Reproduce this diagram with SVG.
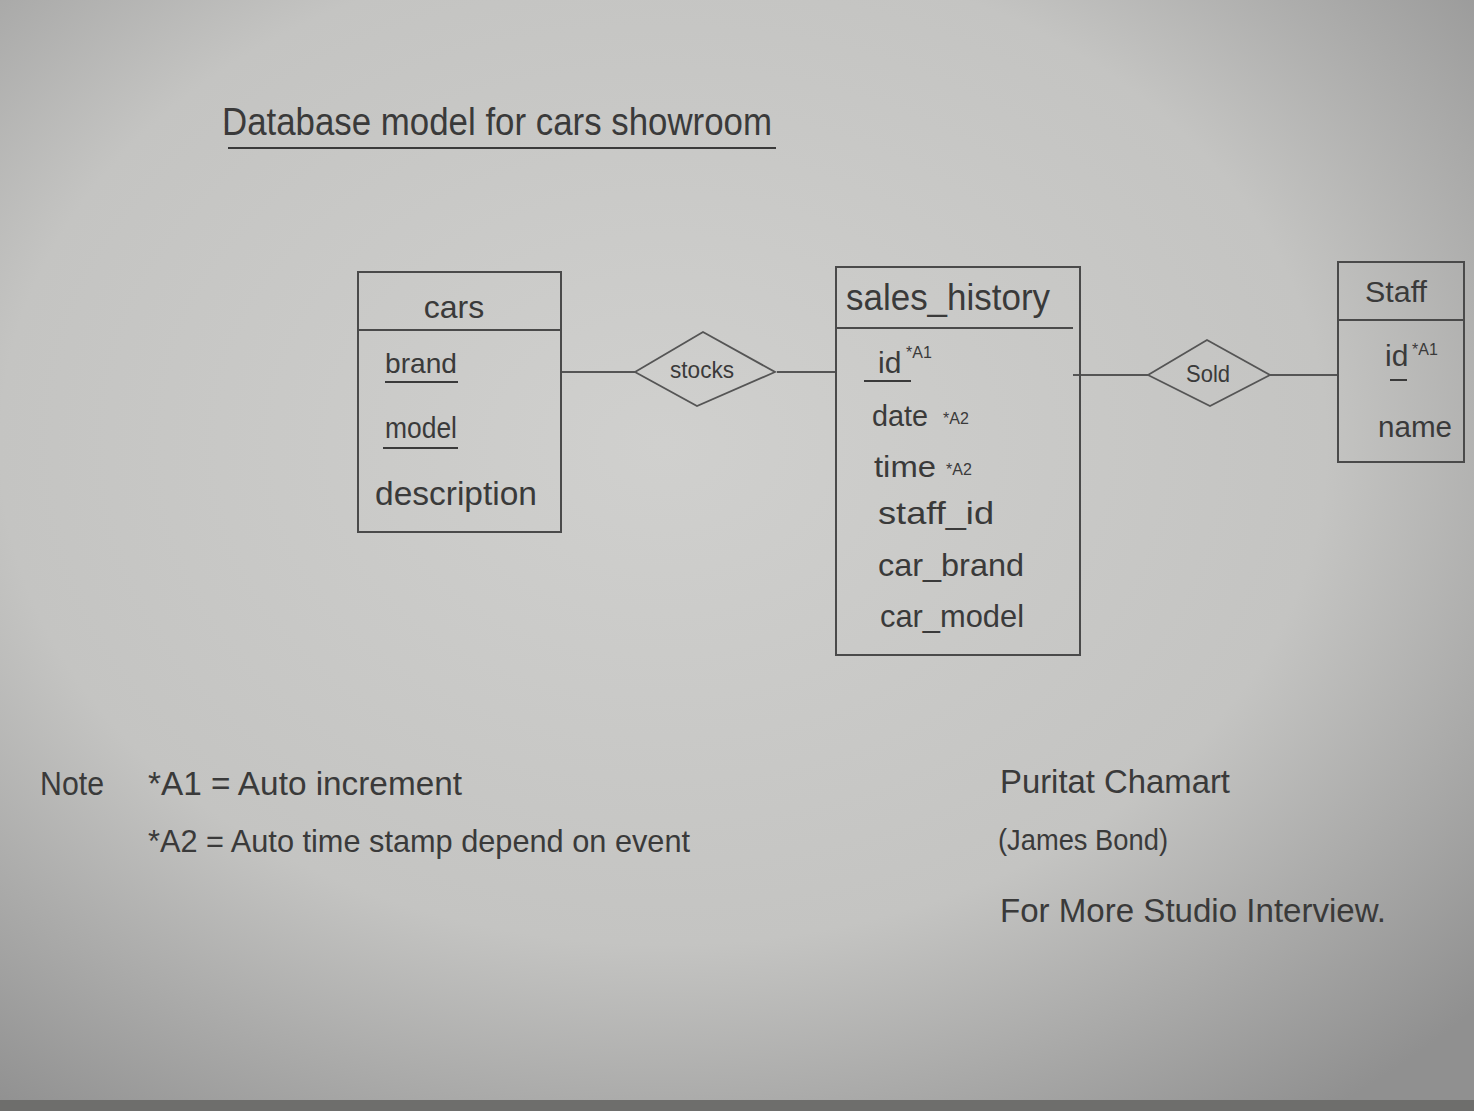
<svg xmlns="http://www.w3.org/2000/svg" width="1474" height="1111" viewBox="0 0 1474 1111">
<defs>
<radialGradient id="paper" cx="0.45" cy="0.4" r="0.75">
<stop offset="0" stop-color="#d0d0ce"/>
<stop offset="0.6" stop-color="#c4c4c2"/>
<stop offset="1" stop-color="#909090"/>
</radialGradient>
<style>
.t{font-family:"Liberation Sans","DejaVu Sans",sans-serif;fill:#3a3a3a;}
.box{fill:none;stroke:#4a4a4a;stroke-width:2;}
.ln{fill:none;stroke:#555;stroke-width:1.8;}
.ul{stroke:#3a3a3a;stroke-width:2;}
.sup{font-size:16px;}
</style>
</defs>
<rect x="0" y="0" width="1474" height="1111" fill="url(#paper)"/>
<rect x="0" y="1100" width="1474" height="11" fill="#6e6e6c"/>

<g id="title">
<text class="t" x="222" y="135" font-size="38" textLength="550" lengthAdjust="spacingAndGlyphs">Database model for cars showroom</text>
<line class="ul" x1="228" y1="148" x2="776" y2="148"/>
</g>

<g id="connectors">
<line class="ln" x1="560" y1="372" x2="635" y2="372"/>
<line class="ln" x1="777" y1="372" x2="836" y2="372"/>
<line class="ln" x1="1073" y1="375" x2="1148" y2="375"/>
<line class="ln" x1="1270" y1="375" x2="1338" y2="375"/>
</g>

<g id="cars">
<rect class="box" x="358" y="272" width="203" height="260"/>
<line class="box" x1="358" y1="330" x2="561" y2="330"/>
<text class="t" x="454" y="318" font-size="32" text-anchor="middle">cars</text>
<text class="t" x="385" y="373" font-size="28" textLength="72" lengthAdjust="spacingAndGlyphs">brand</text>
<line class="ul" x1="385" y1="382" x2="458" y2="382"/>
<text class="t" x="385" y="438" font-size="30" textLength="72" lengthAdjust="spacingAndGlyphs">model</text>
<line class="ul" x1="383" y1="448" x2="458" y2="448"/>
<text class="t" x="375" y="505" font-size="34" textLength="162" lengthAdjust="spacingAndGlyphs">description</text>
</g>

<g id="stocks">
<polygon class="ln" points="635,372 703,332 775,372 697,406"/>
<text class="t" x="702" y="378" font-size="24" text-anchor="middle" textLength="64" lengthAdjust="spacingAndGlyphs">stocks</text>
</g>

<g id="sales_history">
<rect class="box" x="836" y="267" width="244" height="388"/>
<line class="box" x1="836" y1="328" x2="1073" y2="328"/>
<text class="t" x="846" y="310" font-size="36" textLength="204" lengthAdjust="spacingAndGlyphs">sales_history</text>
<text class="t" x="878" y="373" font-size="30">id</text>
<text class="t sup" x="906" y="358">*A1</text>
<line class="ul" x1="864" y1="381" x2="911" y2="381"/>
<text class="t" x="872" y="426" font-size="30" textLength="56" lengthAdjust="spacingAndGlyphs">date</text>
<text class="t sup" x="943" y="424">*A2</text>
<text class="t" x="874" y="477" font-size="30" textLength="62" lengthAdjust="spacingAndGlyphs">time</text>
<text class="t sup" x="946" y="475">*A2</text>
<text class="t" x="878" y="524" font-size="32" textLength="116" lengthAdjust="spacingAndGlyphs">staff_id</text>
<text class="t" x="878" y="576" font-size="32" textLength="146" lengthAdjust="spacingAndGlyphs">car_brand</text>
<text class="t" x="880" y="627" font-size="32" textLength="144" lengthAdjust="spacingAndGlyphs">car_model</text>
</g>

<g id="sold">
<polygon class="ln" points="1148,375 1207,340 1270,375 1210,406"/>
<text class="t" x="1208" y="382" font-size="24" text-anchor="middle" textLength="44" lengthAdjust="spacingAndGlyphs">Sold</text>
</g>

<g id="staff">
<rect class="box" x="1338" y="262" width="126" height="200"/>
<line class="box" x1="1338" y1="320" x2="1464" y2="320"/>
<text class="t" x="1396" y="302" font-size="30" text-anchor="middle" textLength="62" lengthAdjust="spacingAndGlyphs">Staff</text>
<text class="t" x="1385" y="366" font-size="30">id</text>
<text class="t sup" x="1412" y="355">*A1</text>
<line class="ul" x1="1390" y1="380" x2="1407" y2="380"/>
<text class="t" x="1378" y="437" font-size="30" textLength="74" lengthAdjust="spacingAndGlyphs">name</text>
</g>

<g id="notes">
<text class="t" x="40" y="795" font-size="34" textLength="64" lengthAdjust="spacingAndGlyphs">Note</text>
<text class="t" x="148" y="795" font-size="34" textLength="314" lengthAdjust="spacingAndGlyphs">*A1 = Auto increment</text>
<text class="t" x="148" y="852" font-size="32" textLength="542" lengthAdjust="spacingAndGlyphs">*A2 = Auto time stamp depend on event</text>
</g>

<g id="author">
<text class="t" x="1000" y="793" font-size="34" textLength="230" lengthAdjust="spacingAndGlyphs">Puritat Chamart</text>
<text class="t" x="998" y="850" font-size="30" textLength="170" lengthAdjust="spacingAndGlyphs">(James Bond)</text>
<text class="t" x="1000" y="922" font-size="34" textLength="386" lengthAdjust="spacingAndGlyphs">For More Studio Interview.</text>
</g>
</svg>
